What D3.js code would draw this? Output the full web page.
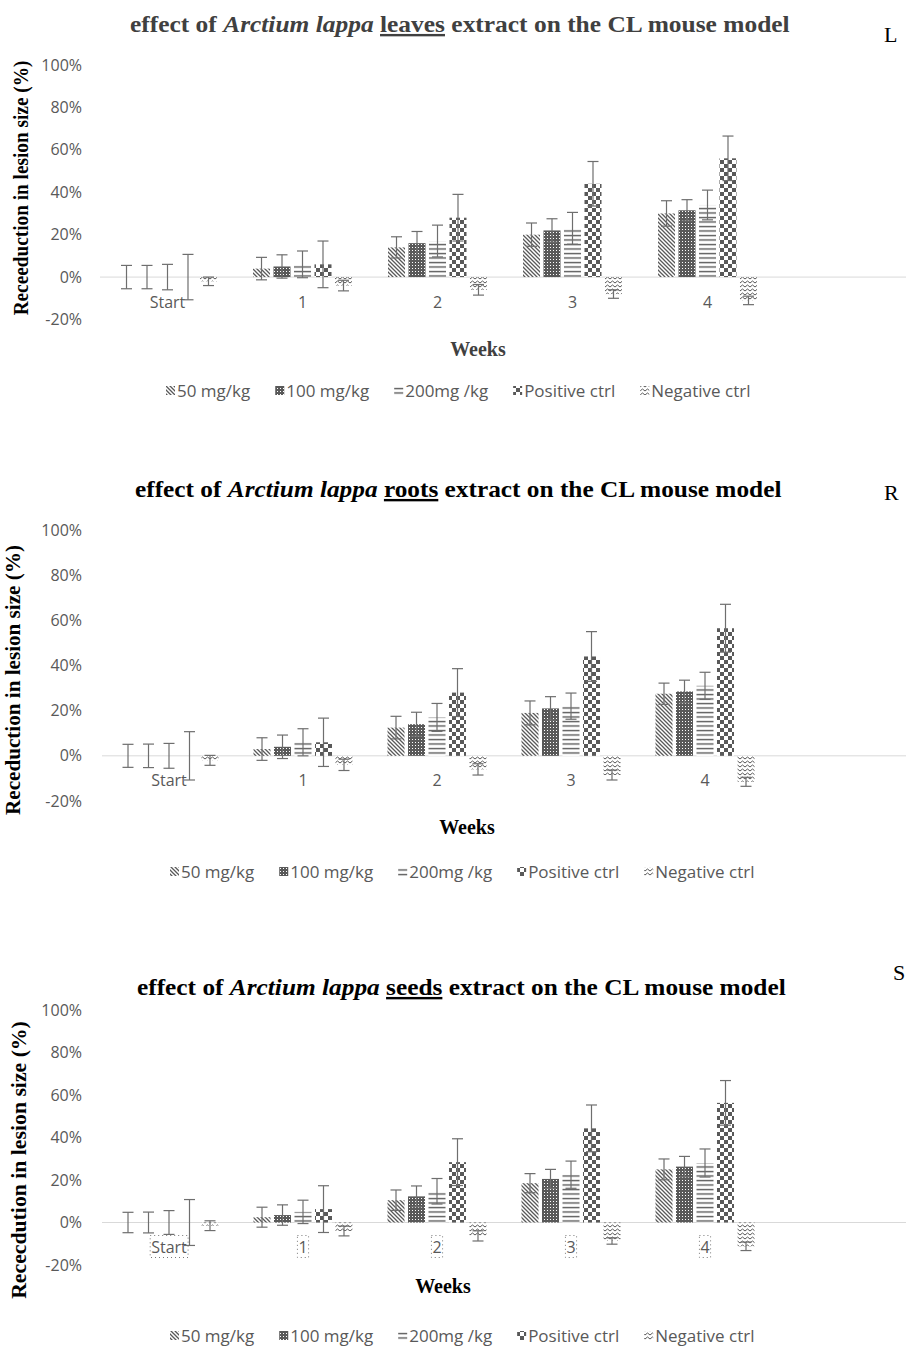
<!DOCTYPE html>
<html>
<head>
<meta charset="utf-8">
<script src="https://cdn.jsdelivr.net/npm/d3@7"></script>
<style>
body { margin: 0; background: #fff; }
text { font-family: "Open Sans", sans-serif; }
text.serif { font-family: "Liberation Serif", "DejaVu Serif", serif; }
</style>
</head>
<body>
<script>
var categories = ["Start", "1", "2", "3", "4"];
var series = ["50 mg/kg", "100 mg/kg", "200mg /kg", "Positive ctrl", "Negative ctrl"];
var yTicks = [-20, 0, 20, 40, 60, 80, 100];

// values (%) per series, one entry per week
var leavesValues = [[0, 4, 14, 20, 30], [0, 5, 16, 22, 31.5], [0, 6, 17, 23, 34], [0, 6, 28, 44, 56], [-2, -4, -6, -8, -11]];
var leavesErrors = [[5.5, 5.3, 5, 5.5, 6], [5.5, 5.5, 5.5, 5.5, 5], [6, 6.3, 7.5, 7.5, 7], [10.7, 11, 11, 10.5, 10.5], [2, 2.5, 2.5, 2, 2]];

var rootsValues = [[0, 3, 12.5, 19, 27.5], [0, 4, 14, 21, 28.5], [0, 6, 17, 22, 31], [0, 6, 28, 44, 56.5], [-2, -4, -6, -8.5, -11.5]];
var rootsErrors = [[5.1, 5, 5, 5.3, 4.7], [5.2, 5.2, 5.3, 5.2, 5], [5.5, 6, 6.2, 5.8, 6], [10.7, 10.7, 10.6, 11, 10.6], [2.2, 2.5, 2.5, 2.2, 2]];

var seedsValues = [[0, 2.5, 10.5, 18.5, 25], [0, 3.5, 12.3, 20.5, 26.3], [0, 5, 14.7, 22.5, 28], [0, 6.3, 28.4, 44.3, 56.3], [-1.5, -4, -6.3, -8.7, -11.2]];
var seedsErrors = [[4.8, 4.7, 4.8, 4.5, 4.9], [4.9, 4.8, 4.9, 4.5, 4.8], [5.6, 5.5, 6, 6.4, 6.6], [10.8, 11, 11, 11, 10.5], [2.3, 2.3, 2.4, 1.5, 2]];

var W = 906, H = 1346;
var ink = "#595959";

var svg = d3.select("body").append("svg")
    .attr("width", W)
    .attr("height", H);

var defs = svg.append("defs");
function pat(id, w, h) {
  var p = defs.append("pattern").attr("id", id)
      .attr("patternUnits", "userSpaceOnUse")
      .attr("width", w).attr("height", h);
  p.append("rect").attr("width", w).attr("height", h).attr("fill", "#fff");
  return p;
}
pat("p0", 4, 4).append("path")
    .attr("d", "M-1,-1L5,5M-1,3L1,5M3,-1L5,1")
    .attr("stroke", ink).attr("stroke-width", 1.3);
var p1 = pat("p1", 3, 3);
p1.select("rect").attr("fill", ink);
p1.append("rect").attr("x", 1).attr("y", 1).attr("width", 1).attr("height", 1).attr("fill", "#fff");
pat("p2", 4, 4.5).append("path")
    .attr("d", "M0,1.5H4").attr("stroke", ink).attr("stroke-width", 1.4);
var p3 = pat("p3", 8, 8);
p3.append("rect").attr("width", 4).attr("height", 4).attr("fill", ink);
p3.append("rect").attr("x", 4).attr("y", 4).attr("width", 4).attr("height", 4).attr("fill", ink);
pat("p4", 5, 4).append("path")
    .attr("d", "M0,3L2.5,1L5,3").attr("fill", "none")
    .attr("stroke", ink).attr("stroke-width", 1);

var panels = [
  {values: leavesValues, errors: leavesErrors, part: "leaves", letter: "L",
   y100: 65, yLow: 319.5, left: 100, step: 135,
   title: {x: 130, y: 32, w: 660, color: "#404040"}, mark: {x: 884, y: 42},
   ylab: {x: 21, y: 188, len: 255, text: "Receeduction in lesion size (%)"},
   weeks: {x: 478, y: 356, color: "#404040"}, legend: {x: 166, y: 391}, boxes: false},
  {values: rootsValues, errors: rootsErrors, part: "roots", letter: "R",
   y100: 530, yLow: 801, left: 102, step: 134,
   title: {x: 135, y: 497, w: 647, color: "#000"}, mark: {x: 884, y: 500},
   ylab: {x: 13, y: 680, len: 270, text: "Receduction in lesion size (%)"},
   weeks: {x: 467, y: 834, color: "#000"}, legend: {x: 170, y: 872}, boxes: false},
  {values: seedsValues, errors: seedsErrors, part: "seeds", letter: "S",
   y100: 1010, yLow: 1265, left: 102, step: 134,
   title: {x: 137, y: 995, w: 649, color: "#000"}, mark: {x: 893, y: 980},
   ylab: {x: 19, y: 1160, len: 278, text: "Rececdution in lesion size (%)"},
   weeks: {x: 443, y: 1293, color: "#000"}, legend: {x: 170, y: 1336}, boxes: true}
];

panels.forEach(function(p) {
  var g = svg.append("g");

  var x0 = d3.scaleBand()
      .domain(categories.concat([""]))
      .range([p.left, p.left + 6 * p.step]);
  var bw = x0.bandwidth();
  var x1 = d3.scaleBand()
      .domain(d3.range(series.length))
      .range([bw / 2 - 49.5, bw / 2 + 49.5])
      .paddingInner(0.17);
  var y = d3.scaleLinear().domain([-20, 100]).range([p.yLow, p.y100]);

  // title (tall serif squeezed to the reference width)
  var t = g.append("text")
      .attr("class", "serif")
      .attr("font-weight", "bold")
      .attr("font-size", 24)
      .attr("fill", p.title.color);
  t.append("tspan").text("effect of ");
  t.append("tspan").attr("font-style", "italic").text("Arctium lappa");
  t.append("tspan").text(" ");
  t.append("tspan").attr("text-decoration", "underline").text(p.part);
  t.append("tspan").text(" extract on the CL mouse model");
  var tw = t.node().getComputedTextLength();
  t.attr("transform", "translate(" + p.title.x + "," + p.title.y + ") scale(" + (p.title.w / tw) + ",1)");

  g.append("text")
      .attr("class", "serif")
      .attr("x", p.mark.x).attr("y", p.mark.y)
      .attr("font-size", 22)
      .text(p.letter);

  // y axis labels
  g.selectAll(".ytick")
      .data(yTicks)
      .enter().append("text")
      .attr("x", 82)
      .attr("y", function(d) { return y(d); })
      .attr("dy", "0.35em")
      .attr("text-anchor", "end")
      .attr("font-size", 16)
      .attr("fill", ink)
      .text(function(d) { return d + "%"; });

  var yl = g.append("text")
      .attr("class", "serif")
      .attr("text-anchor", "middle")
      .attr("dominant-baseline", "central")
      .attr("font-weight", "bold")
      .attr("font-size", 20)
      .attr("fill", "#000")
      .text(p.ylab.text);
  var yw = yl.node().getComputedTextLength();
  yl.attr("transform", "translate(" + p.ylab.x + "," + p.ylab.y + ") rotate(-90) scale(" + (p.ylab.len / yw) + ",1)");

  // zero line
  g.append("line")
      .attr("x1", p.left).attr("x2", W)
      .attr("y1", y(0)).attr("y2", y(0))
      .attr("stroke", "#d9d9d9").attr("stroke-width", 1);

  // category labels
  var cats = g.selectAll(".cat")
      .data(categories)
      .enter().append("text")
      .attr("x", function(d) { return x0(d) + bw / 2; })
      .attr("y", y(0) + 25)
      .attr("dy", "0.35em")
      .attr("text-anchor", "middle")
      .attr("font-size", 16)
      .attr("fill", ink)
      .text(function(d) { return d; });

  if (p.boxes) {
    cats.each(function(d) {
      var b = this.getBBox();
      g.append("rect")
          .attr("x", b.x - 1).attr("y", y(0) + 13)
          .attr("width", b.width + 2).attr("height", 22)
          .attr("fill", "none")
          .attr("stroke", "#777").attr("stroke-width", 1)
          .attr("stroke-dasharray", "1,3");
    });
  }

  // bars
  series.forEach(function(s, si) {
    var grp = g.append("g");
    grp.selectAll("rect")
        .data(p.values[si])
        .enter().append("rect")
        .attr("x", function(d, i) { return x0(categories[i]) + x1(si); })
        .attr("width", x1.bandwidth())
        .attr("y", function(d) { return y(Math.max(0, d)); })
        .attr("height", function(d) { return Math.abs(y(d) - y(0)); })
        .attr("fill", "url(#p" + si + ")");

    var eb = grp.selectAll(".err")
        .data(p.values[si])
        .enter().append("g")
        .attr("transform", function(d, i) {
          return "translate(" + (x0(categories[i]) + x1(si) + x1.bandwidth() / 2) + ",0)";
        });
    eb.append("line")
        .attr("y1", function(d, i) { return y(d - p.errors[si][i]); })
        .attr("y2", function(d, i) { return y(d + p.errors[si][i]); })
        .attr("stroke", "#6e6e6e").attr("stroke-width", 1.2);
    eb.append("line")
        .attr("x1", -5.5).attr("x2", 5.5)
        .attr("y1", function(d, i) { return y(d + p.errors[si][i]); })
        .attr("y2", function(d, i) { return y(d + p.errors[si][i]); })
        .attr("stroke", "#6e6e6e").attr("stroke-width", 1.2);
    eb.append("line")
        .attr("x1", -5.5).attr("x2", 5.5)
        .attr("y1", function(d, i) { return y(d - p.errors[si][i]); })
        .attr("y2", function(d, i) { return y(d - p.errors[si][i]); })
        .attr("stroke", "#6e6e6e").attr("stroke-width", 1.2);
  });

  // x axis title
  g.append("text")
      .attr("class", "serif")
      .attr("x", p.weeks.x).attr("y", p.weeks.y)
      .attr("text-anchor", "middle")
      .attr("font-weight", "bold")
      .attr("font-size", 20)
      .attr("fill", p.weeks.color)
      .text("Weeks");

  // legend
  var lx = p.legend.x;
  series.forEach(function(s, si) {
    g.append("rect")
        .attr("x", lx).attr("y", p.legend.y - 5)
        .attr("width", 9).attr("height", 9)
        .attr("fill", "url(#p" + si + ")");
    var lt = g.append("text")
        .attr("x", lx + 11).attr("y", p.legend.y)
        .attr("dy", "0.35em")
        .attr("font-size", 17)
        .attr("fill", ink)
        .text(s);
    lx += 11 + lt.node().getComputedTextLength() + 25;
  });
});
</script>
</body>
</html>
